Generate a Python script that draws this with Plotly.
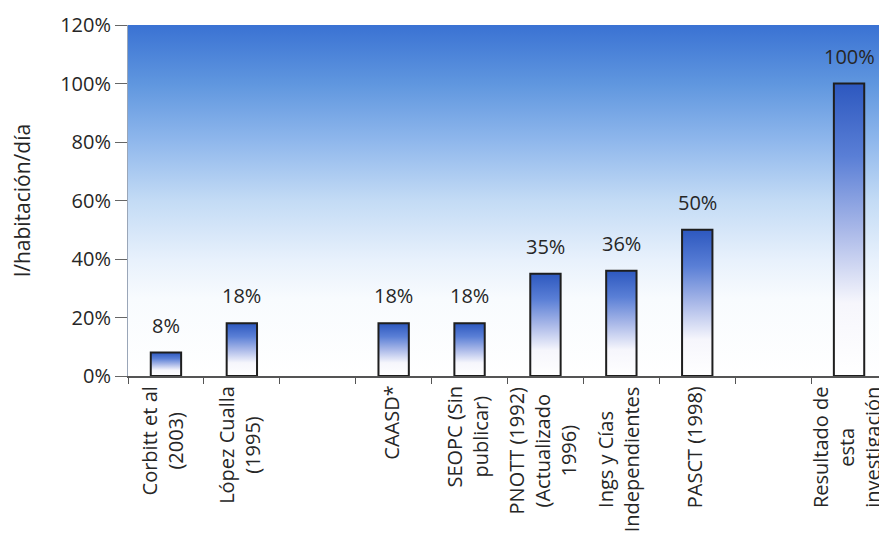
import plotly.graph_objects as go

# ---- data ----
categories = ["Corbitt et al<br>(2003)", "López Cualla<br>(1995)", "",
              "CAASD*", "SEOPC (Sin<br>publicar)",
              "PNOTT (1992)<br>(Actualizado<br>1996)",
              "Ings y Cías<br>Independientes", "PASCT (1998)", "",
              "Resultado de<br>esta<br>investigación"]
values = [8, 18, None, 18, 18, 35, 36, 50, None, 100]
value_labels = ["8%", "18%", "", "18%", "18%", "35%", "36%", "50%", "", "100%"]
y_ticks = [0, 20, 40, 60, 80, 100, 120]
y_tick_labels = ["0%", "20%", "40%", "60%", "80%", "100%", "120%"]

FONT = "Open Sans"
TXT = "#262626"
BAR_HALF = 0.2

fig = go.Figure()

# plot-area gradient background
fig.add_trace(go.Scatter(
    x=[-0.5, -0.5, 9.5, 9.5, -0.5], y=[0, 120, 120, 0, 0],
    mode="lines", line=dict(width=0), fill="toself",
    fillgradient=dict(type="vertical", colorscale=[
        [0.0, "#ffffff"], [0.22, "#f8fbfe"], [0.33, "#e8f1fc"],
        [0.5, "#c3dbf5"], [0.67, "#8fb7ec"], [0.83, "#6097df"],
        [1.0, "#3a72d3"]]),
    hoverinfo="skip", showlegend=False))

# bars with vertical gradient
for i, v in enumerate(values):
    if v is None:
        continue
    fig.add_trace(go.Scatter(
        x=[i - BAR_HALF, i - BAR_HALF, i + BAR_HALF, i + BAR_HALF, i - BAR_HALF],
        y=[0, v, v, 0, 0],
        mode="lines", line=dict(color="#1e1e1e", width=2),
        fill="toself",
        fillgradient=dict(type="vertical", colorscale=[
            [0.0, "#ffffff"], [0.25, "#f6f6fc"], [0.5, "#a9b8e8"],
            [0.75, "#5a7fd6"], [1.0, "#2d58bf"]]),
        hoverinfo="skip", showlegend=False))

annotations = []
for i, (v, lab) in enumerate(zip(values, value_labels)):
    if v is None:
        continue
    annotations.append(dict(x=i, y=v, xref="x", yref="y", text=lab,
                            showarrow=False, yanchor="bottom", yshift=12,
                            font=dict(family=FONT, size=20, color=TXT)))
for i, cat in enumerate(categories):
    if not cat:
        continue
    annotations.append(dict(x=i, y=0, xref="x", yref="y", text=cat,
                            showarrow=False, textangle=-90, align="center",
                            yanchor="top", xanchor="center", yshift=-8,
                            xshift=-3,
                            font=dict(family=FONT, size=20, color=TXT)))

# page body adds an 8px offset, so the figure is sized to end at the window edge
fig.update_layout(
    width=879, height=533,
    margin=dict(l=120, r=0, t=17, b=165),
    paper_bgcolor="white", plot_bgcolor="white",
    showlegend=False,
    annotations=annotations,
    xaxis=dict(range=[-0.5, 9.5], tickvals=[k - 0.5 for k in range(11)],
               ticktext=[""] * 11, ticks="outside", ticklen=6, tickcolor="#555",
               showline=True, linecolor="#555", linewidth=1.5,
               showgrid=False, zeroline=False, fixedrange=True,
               automargin=False),
    yaxis=dict(range=[0, 120], tickvals=y_ticks, ticktext=y_tick_labels,
               ticks="outside", ticklen=12, tickcolor="#666",
               showline=True, linecolor="#9aa6b8", linewidth=1,
               showgrid=False, zeroline=False, automargin=False,
               tickfont=dict(family=FONT, size=20, color=TXT),
               title=dict(text="l/habitación/día", standoff=24,
                          font=dict(family=FONT, size=21, color=TXT))),
)

fig.write_html("out.html")
